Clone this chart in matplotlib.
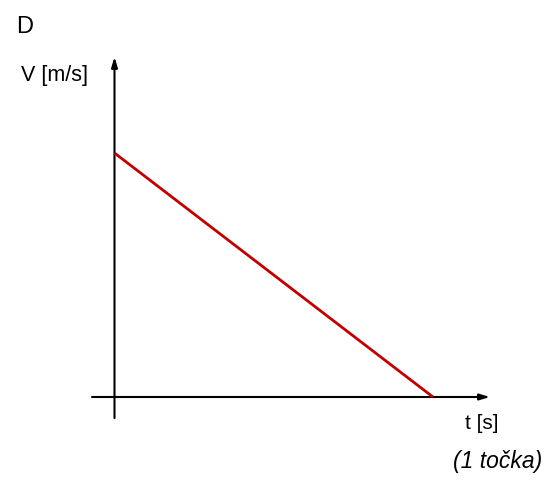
import matplotlib
matplotlib.use("Agg")
import matplotlib.pyplot as plt

plt.rcParams['font.family'] = ['Liberation Sans', 'DejaVu Sans']

# velocity falls linearly to zero
t_vals = [0, 10]
v_vals = [8, 0]

W, H = 554, 482
fig = plt.figure(figsize=(W / 100, H / 100), dpi=100)
ax = fig.add_axes([0, 0, 1, 1])
ax.set_xlim(-3.595, 13.80)
ax.set_ylim(-2.787, 13.016)
ax.axis('off')

# axes with arrow heads
arrow = dict(arrowstyle='-|>,head_length=0.6,head_width=0.18', color='black', lw=1.5,
             shrinkA=0, shrinkB=0)
ax.annotate('', xy=(11.79, 0), xytext=(-0.706, 0), arrowprops=arrow)
ax.annotate('', xy=(0, 11.15), xytext=(0, -0.69), arrowprops=arrow)

ax.plot(t_vals, v_vals, color='#c00000', lw=2, solid_capstyle='butt', zorder=3)

def px(x, y):
    return x / W, 1 - y / H

fig.text(*px(16, 33), 'D', fontsize=17, va='baseline', ha='left')
fig.text(*px(21, 81), 'V [m/s]', fontsize=15.5, va='baseline', ha='left')
fig.text(*px(465, 429), 't [s]', fontsize=15, va='baseline', ha='left')
fig.text(*px(542, 468), '(1 točka)', fontsize=16.5, style='italic', va='baseline', ha='right')

fig.savefig('out.png', dpi=100)
